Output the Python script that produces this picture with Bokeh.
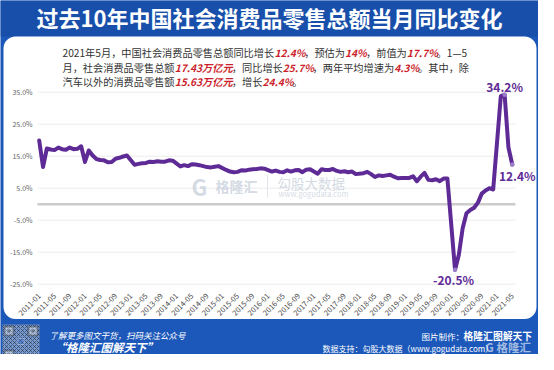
import math
from bokeh.plotting import figure
from bokeh.models import Range1d, Label, BoxAnnotation
from bokeh.core.properties import value
from bokeh.embed import file_html
from bokeh.resources import INLINE

# ---------------- data ----------------
years = list(range(2011, 2022))
month_labels = [f"{y}-{m:02d}" for y in years for m in range(1, 13)][:125]

yoy_2011 = [19.9, 11.6, 17.4, 17.1, 16.9, 17.7, 17.2, 17.0, 17.7, 17.2, 17.3, 18.1]
yoy_2012 = [13.2, 16.8, 15.2, 14.1, 13.8, 13.7, 13.1, 13.2, 14.2, 14.5, 14.9, 15.2]
yoy_2013 = [None, 12.3, 12.6, 12.8, 12.9, 13.3, 13.2, 13.4, 13.3, 13.3, 13.7, 13.6]
yoy_2014 = [None, 11.8, 12.2, 11.9, 12.5, 12.4, 12.2, 11.9, 11.6, 11.5, 11.7, 11.9]
yoy_2015 = [None, 10.7, 10.2, 10.0, 10.1, 10.6, 10.5, 10.8, 10.9, 11.0, 11.2, 11.1]
yoy_2016 = [None, 10.2, 10.5, 10.1, 10.0, 10.6, 10.2, 10.6, 10.7, 10.0, 10.8, 10.9]
yoy_2017 = [None, 9.5, 10.9, 10.7, 10.7, 11.0, 10.4, 10.1, 10.3, 10.0, 10.2, 9.4]
yoy_2018 = [None, 9.7, 10.1, 9.4, 8.5, 9.0, 8.8, 9.0, 9.2, 8.6, 8.1, 8.2]
yoy_2019 = [None, 8.2, 8.7, 7.2, 8.6, 9.8, 7.6, 7.5, 7.8, 7.2, 8.0, 8.0]
yoy_2020 = [None, -20.5, -15.8, -7.5, -2.8, -1.8, -1.1, 0.5, 3.3, 4.3, 5.0, 4.6]
yoy_2021 = [None, 33.8, 34.2, 17.7, 12.4]

y_ticks = [-25, -15, -5, 5, 15, 25, 35]
y_tick_labels = [f"{t:.1f}%" for t in y_ticks]
x_tick_step = 4

highlight_months = ["2021-03", "2021-05", "2020-02"]
highlight_texts = ["34.2%", "12.4%", "-20.5%"]

title_text = "过去10年中国社会消费品零售总额当月同比变化"
note_lines = [
    [("2021年5月，中国社会消费品零售总额同比增长", 0), ("12.4%", 1), ("，预估为", 0), ("14%", 1),
     ("，前值为", 0), ("17.7%", 1), ("。1—5", 0)],
    [("月，社会消费品零售总额", 0), ("17.43万亿元", 1), ("，同比增长", 0), ("25.7%", 1),
     ("，两年平均增速为", 0), ("4.3%", 1), ("。其中，除", 0)],
    [("汽车以外的消费品零售额", 0), ("15.63万亿元", 1), ("，增长", 0), ("24.4%", 1), ("。", 0)],
]

all_values = yoy_2011 + yoy_2012 + yoy_2013 + yoy_2014 + yoy_2015 + yoy_2016 + \
    yoy_2017 + yoy_2018 + yoy_2019 + yoy_2020 + yoy_2021
xs = [i for i, v in enumerate(all_values) if v is not None]
ys = [v for v in all_values if v is not None]

# ---------------- geometry (reference screen pixels) ----------------
W, H = 538, 354
OFF = 8
X0, PX = 46.7, 3.815       # screen x of first month, px per month
Y0, PY = 211.7, 3.2        # screen y of 0%, px per percent
G_L, G_R = 45, 523         # gridline extent

def DX(sx):
    return (sx - X0) / PX

def DY(sy):
    return (Y0 - sy) / PY

FONT = "Noto Sans CJK SC"
BLUE = "#1b58ba"
PURPLE = "#5e2a96"

p = figure(width=W, height=H, output_backend="svg", toolbar_location=None,
           x_axis_type=None, y_axis_type=None,
           x_range=Range1d(DX(OFF), DX(OFF + W)), y_range=Range1d(DY(OFF + H), DY(OFF)),
           min_border=0)
p.outline_line_color = None
p.border_fill_color = BLUE
p.background_fill_color = BLUE
p.grid.visible = False

# darker header band
p.add_layout(BoxAnnotation(left=DX(0), right=DX(560), top=DY(0), bottom=DY(44),
                           fill_color="#16499f", fill_alpha=0.55, line_color=None, level="image"))
# white rounded panel
p.add_layout(BoxAnnotation(left=DX(11), right=DX(544), top=DY(44), bottom=DY(326.5),
                           fill_color="white", fill_alpha=1.0, line_color=None,
                           border_radius=12, level="image"))

# y grid + tick labels
p.segment(x0=[DX(G_L)] * len(y_ticks), x1=[DX(G_R)] * len(y_ticks), y0=y_ticks, y1=y_ticks,
          line_color="#ebebeb", line_width=1)
p.segment(x0=[DX(G_L)], x1=[DX(G_R)], y0=[0], y1=[0], line_color="#cccccc", line_width=2.5)
p.text(x=[DX(40)] * len(y_ticks), y=y_ticks, text=y_tick_labels, text_font=value(FONT),
       text_font_size=value("7px"), text_color="#666666", text_align="right",
       text_baseline="middle")

# x tick labels
xt = list(range(0, len(month_labels), x_tick_step))
p.text(x=xt, y=[DY(302)] * len(xt), text=[month_labels[i] for i in xt], angle=math.pi / 4,
       text_font=value(FONT), text_font_size=value("7.5px"), text_color="#4a4a4a",
       text_align="right", text_baseline="middle")

# watermark
wm = "#c9d1dc"
p.add_layout(Label(x=DX(207), y=DY(193), text="G", text_font=FONT, text_font_style="bold",
                   text_font_size="22px", text_color=wm, text_alpha=0.8,
                   text_align="center", text_baseline="middle"))
p.add_layout(Label(x=DX(223), y=DY(193), text="格隆汇", text_font=FONT, text_font_style="bold",
                   text_font_size="14px", text_color=wm, text_alpha=0.8,
                   text_align="left", text_baseline="middle"))
p.add_layout(BoxAnnotation(left=DX(274.5), right=DX(275.5), top=DY(182), bottom=DY(205),
                           fill_color=wm, fill_alpha=0.6, line_color=None, level="underlay"))
p.add_layout(Label(x=DX(285), y=DY(190.5), text="勾股大数据", text_font=FONT,
                   text_font_size="13.5px", text_color=wm, text_alpha=0.8,
                   text_align="left", text_baseline="middle"))
p.add_layout(Label(x=DX(286), y=DY(200.5), text="www.gogudata.com", text_font=FONT,
                   text_font_size="7.5px", text_color=wm, text_alpha=0.8,
                   text_align="left", text_baseline="middle"))

# data line
p.line(xs, ys, line_width=4, line_color=PURPLE, line_join="round", line_cap="round")
hx = [month_labels.index(m) for m in highlight_months]
hy = [all_values[i] for i in hx]
p.scatter(hx, hy, size=4.5, fill_color="#9b7cc9", line_color=None)
label_offsets = [(0, 8), (5, -11), (-1.5, -10)]
for xi, yi, t, (ox, oy) in zip(hx, hy, highlight_texts, label_offsets):
    p.add_layout(Label(x=xi, y=yi, text=t, x_offset=ox, y_offset=oy, text_font=FONT,
                       text_font_style="bold", text_font_size="12px", text_color=PURPLE,
                       text_align="center", text_baseline="middle"))

# title
p.add_layout(Label(x=DX(277), y=DY(24.5), text=title_text, text_font=FONT,
                   text_font_style="bold", text_font_size="22px", text_color="white",
                   text_align="center", text_baseline="middle"))

# note text
def text_width(s, size, bold):
    w = 0.0
    for ch in s:
        if ord(ch) > 0x2000:
            w += 1.0
        elif ch.isdigit():
            w += 0.58 if bold else 0.555
        elif ch == ".":
            w += 0.28
        elif ch == "%":
            w += 0.9
        else:
            w += 0.5
    return w * size

NOTE_SIZE = 10.2
line_y = [60, 74.5, 88.5]
for segs, sy in zip(note_lines, line_y):
    off = 0.0
    for s, red in segs:
        p.add_layout(Label(x=DX(70), y=DY(sy), x_offset=off, text=s, text_font=FONT,
                           text_font_size=f"{NOTE_SIZE}px",
                           text_font_style="bold italic" if red else "normal",
                           text_color="#cc1f2d" if red else "#333333",
                           text_align="left", text_baseline="middle"))
        off += text_width(s, NOTE_SIZE, bool(red))

# footer: QR code imitation
p.add_layout(BoxAnnotation(left=DX(10), right=DX(47), top=DY(332), bottom=DY(369),
                           fill_color="white", line_color=None, hatch_pattern="diagonal_cross",
                           hatch_color="#222222", hatch_alpha=0.55, hatch_scale=4, level="overlay"))
for (qx, qy) in [(12, 334), (36, 334), (12, 358)]:
    p.add_layout(BoxAnnotation(left=DX(qx), right=DX(qx + 9), top=DY(qy), bottom=DY(qy + 9),
                               fill_color="white", line_color="#111111", line_width=2, level="overlay"))
    p.add_layout(BoxAnnotation(left=DX(qx + 3), right=DX(qx + 6), top=DY(qy + 3), bottom=DY(qy + 6),
                               fill_color="#111111", line_color=None, level="overlay"))
p.add_layout(BoxAnnotation(left=DX(25.5), right=DX(31.5), top=DY(346), bottom=DY(352),
                           fill_color="#2d64c8", line_color="white", line_width=1, level="overlay"))

p.add_layout(Label(x=DX(57), y=DY(342), text="了解更多图文干货，扫码关注公众号", text_font=FONT,
                   text_font_style="italic", text_font_size="8.5px", text_color="white",
                   text_align="left", text_baseline="middle"))
p.add_layout(Label(x=DX(62), y=DY(354.5), text="“格隆汇图解天下”", text_font=FONT,
                   text_font_style="bold italic", text_font_size="11.5px", text_color="white",
                   text_align="left", text_baseline="middle"))
p.add_layout(Label(x=DX(429), y=DY(343), text="图片制作：", text_font=FONT,
                   text_font_size="8.5px", text_color="white",
                   text_align="left", text_baseline="middle"))
p.add_layout(Label(x=DX(471), y=DY(343), text="格隆汇图解天下", text_font=FONT,
                   text_font_style="bold", text_font_size="9.8px", text_color="white",
                   text_align="left", text_baseline="middle"))
p.add_layout(Label(x=DX(330), y=DY(355.5), text="数据支持：勾股大数据（www.gogudata.com）",
                   text_font=FONT, text_font_size="8px", text_color="white",
                   text_align="left", text_baseline="middle"))
p.add_layout(Label(x=DX(497), y=DY(354.5), text="G", text_font=FONT, text_font_style="bold",
                   text_font_size="11.5px", text_color="white", text_alpha=0.6,
                   text_align="center", text_baseline="middle"))
p.add_layout(Label(x=DX(504), y=DY(354.5), text="格隆汇", text_font=FONT, text_font_style="bold",
                   text_font_size="11.5px", text_color="white", text_alpha=0.6,
                   text_align="left", text_baseline="middle"))

open("out.html", "w").write(file_html(p, INLINE))
